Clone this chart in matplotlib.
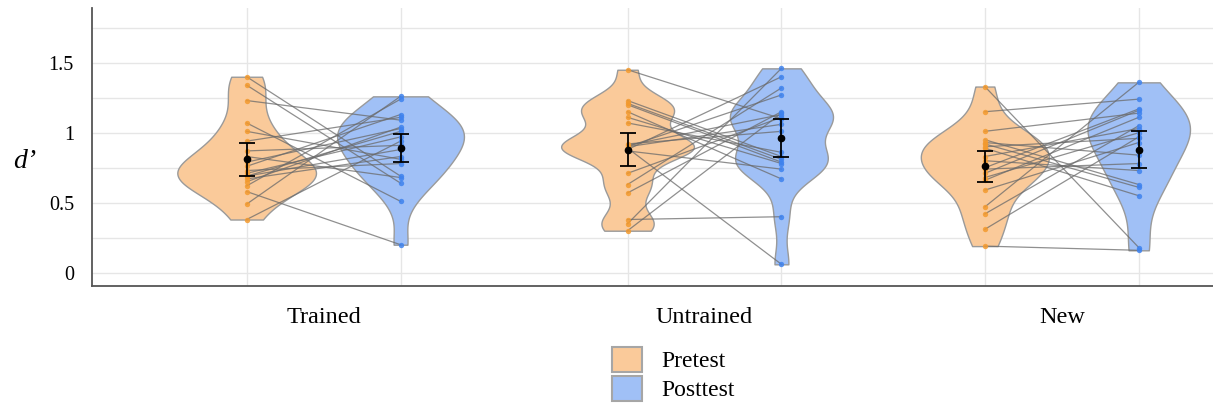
import numpy as np
import matplotlib
matplotlib.use('Agg')
import matplotlib.pyplot as plt
from matplotlib.patches import Patch


# d' per subject, same subject order in pre and post
categories = ['Trained', 'Untrained', 'New']

trained_pre = [1.40, 1.34, 1.23, 1.07, 1.01, 0.94, 0.87, 0.83, 0.79, 0.76,
               0.73, 0.71, 0.69, 0.69, 0.67, 0.65, 0.62, 0.58, 0.49, 0.38]
trained_post = [0.69, 0.64, 1.09, 0.51, 0.81, 1.11, 0.91, 0.68, 1.03, 1.13,
                0.78, 0.97, 1.01, 0.88, 0.83, 1.04, 1.24, 0.20, 1.26, 0.94]

untrained_pre = [1.45, 1.23, 1.21, 1.20, 1.15, 1.11, 1.07, 0.92, 0.91, 0.90,
                 0.90, 0.89, 0.88, 0.87, 0.71, 0.63, 0.57, 0.38, 0.35, 0.30]
untrained_post = [1.10, 0.83, 0.81, 0.79, 0.67, 0.78, 0.86, 1.01, 1.13, 1.06,
                  1.27, 0.06, 1.40, 0.74, 1.11, 1.32, 1.15, 0.40, 1.46, 1.14]

new_pre = [1.33, 1.15, 1.01, 0.95, 0.93, 0.92, 0.90, 0.89, 0.83, 0.80,
           0.75, 0.74, 0.71, 0.68, 0.66, 0.59, 0.47, 0.42, 0.31, 0.19]
new_post = [0.18, 1.24, 1.14, 0.63, 0.84, 0.61, 0.96, 0.55, 1.03, 0.73,
            1.17, 0.78, 1.16, 1.00, 1.11, 0.93, 1.36, 1.05, 0.97, 0.16]

# group means and 95% CI half widths
pre_mean = [0.81, 0.88, 0.76]
pre_ci = [0.12, 0.12, 0.11]
post_mean = [0.89, 0.965, 0.88]
post_ci = [0.10, 0.135, 0.13]

PRE_FILL = '#FACA9A'
POST_FILL = '#A0C0F6'
PRE_DOT = '#F39A2E'
POST_DOT = '#3E82EE'
EDGE = '#9a9a9a'

centers = np.array([0.0, 1.0, 1.938])
offset = 0.202
max_half = 0.182
# bandwidth multiplier per violin (pre, post)
bw_scale = [(1.0, 1.0), (0.5, 0.8), (1.0, 1.0)]

plt.rcParams['font.family'] = ['Liberation Serif', 'DejaVu Serif']


def kde(vals, grid, scale=1.0):
    # gaussian kde, silverman bandwidth
    n = len(vals)
    sd = vals.std(ddof=1)
    iqr = np.subtract(*np.percentile(vals, [75, 25]))
    bw = scale * 1.059 * min(sd, iqr / 1.349) * n ** -0.2
    z = (grid[:, None] - vals[None, :]) / bw
    return np.exp(-0.5 * z ** 2).sum(axis=1) / (n * bw * np.sqrt(2 * np.pi))


groups = [(np.array(trained_pre), np.array(trained_post)),
          (np.array(untrained_pre), np.array(untrained_post)),
          (np.array(new_pre), np.array(new_post))]

# densities first so every violin shares one width scale
dens = []
for (pre, post), scales in zip(groups, bw_scale):
    for vals, s in zip((pre, post), scales):
        grid = np.linspace(vals.min(), vals.max(), 200)
        dens.append((grid, kde(vals, grid, s)))
peak = max(d.max() for _, d in dens)

fig = plt.figure(figsize=(12.13, 4.09), dpi=100)
ax = fig.add_axes([92 / 1213, 1 - 286 / 409, 1 - 92 / 1213, (286 - 8.3) / 409])

k = 0
for i, (pre, post) in enumerate(groups):
    xs = (centers[i] - offset, centers[i] + offset)
    for x, vals, fill in ((xs[0], pre, PRE_FILL), (xs[1], post, POST_FILL)):
        grid, d = dens[k]
        k += 1
        w = d / peak * max_half
        ax.fill_betweenx(grid, x - w, x + w, facecolor=fill, edgecolor=EDGE,
                         lw=1.0, zorder=1)

    # paired lines per subject
    for a, b in zip(pre, post):
        ax.plot(xs, [a, b], color='#6a6a6a', lw=0.9, alpha=0.75, zorder=2)

    ax.scatter(np.full(len(pre), xs[0]), pre, s=15, color=PRE_DOT, alpha=0.85,
               lw=0, zorder=3)
    ax.scatter(np.full(len(post), xs[1]), post, s=15, color=POST_DOT, alpha=0.85,
               lw=0, zorder=3)

    ax.errorbar(xs[0], pre_mean[i], yerr=pre_ci[i], fmt='o', color='black',
                ms=4.5, capsize=5.5, elinewidth=1.3, capthick=1.3, zorder=5)
    ax.errorbar(xs[1], post_mean[i], yerr=post_ci[i], fmt='o', color='black',
                ms=4.5, capsize=5.5, elinewidth=1.3, capthick=1.3, zorder=5)

ax.set_xlim(-0.608, 2.335)
ax.set_ylim(-0.095, 1.889)

# grid: every 0.25 horizontally, one line per violin vertically
ax.set_yticks(np.arange(0, 2.0, 0.25), minor=True)
ax.set_yticks([0, 0.5, 1, 1.5], ['0', '0.5', '1', '1.5'])
ax.grid(axis='y', which='both', color='#e6e6e6', lw=1)
violin_x = np.sort(np.concatenate([centers - offset, centers + offset]))
ax.set_xticks(violin_x, [''] * 6)
ax.set_xticks(centers, categories, minor=True)
ax.grid(axis='x', which='major', color='#e6e6e6', lw=1)
ax.set_axisbelow(True)

ax.tick_params(axis='y', which='both', length=0, labelsize=14.5, pad=13)
ax.tick_params(axis='x', which='both', length=0, labelsize=17.5, pad=15)

for side in ('top', 'right'):
    ax.spines[side].set_visible(False)
for side in ('left', 'bottom'):
    ax.spines[side].set_color('#555555')
    ax.spines[side].set_linewidth(1.3)

fig.text(24.5 / 1213, 1 - 162 / 409, 'd\u2019', fontsize=20, style='italic',
         ha='center', va='center')

handles = [Patch(facecolor=PRE_FILL, edgecolor='#a6a6a6', lw=1.5),
           Patch(facecolor=POST_FILL, edgecolor='#a6a6a6', lw=1.5)]
fig.legend(handles, ['Pretest', 'Posttest'], loc='upper left',
           bbox_to_anchor=(612 / 1213, 1 - 346.7 / 409), frameon=False,
           fontsize=17, borderpad=0, borderaxespad=0, handlelength=1.27,
           handleheight=1.27, labelspacing=0.14, handletextpad=0.8)

fig.savefig('out.png', dpi=100)
